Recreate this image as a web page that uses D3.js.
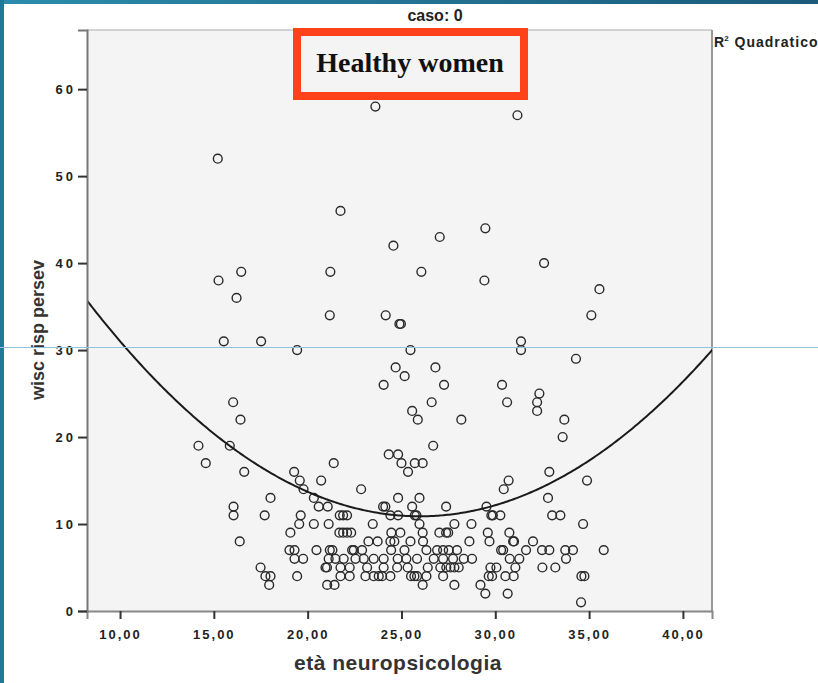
<!DOCTYPE html>
<html lang="it">
<head>
<meta charset="UTF-8">
<title>caso: 0</title>
<script src="https://d3js.org/d3.v7.min.js"></script>
<style>
  html, body { margin: 0; padding: 0; background: #fff; overflow: hidden; }
  svg { display: block; font-family: "Liberation Sans", Arial, sans-serif; }
</style>
</head>
<body>
<svg id="chart" width="818" height="683"></svg>
<script>
// axes
const xTicks = [10, 15, 20, 25, 30, 35, 40];
const yTicks = [0, 10, 20, 30, 40, 50, 60];
const xDomain = [8.24, 41.55];
const yDomain = [0, 66.8];

// quadratic fit: y = b0 + b1*x + b2*x^2
const fitCoef = [64.09, -4.095, 0.0788];

// [età neuropsicologia, wisc risp persev]
const points = [
  [23.61, 58], [31.18, 57], [15.21, 52], [21.75, 46], [29.47, 44], [27.04, 43], [24.57, 42],
  [32.60, 40], [16.46, 39], [21.21, 39], [26.06, 39], [15.25, 38], [29.42, 38], [35.55, 37],
  [16.21, 36], [21.18, 34], [24.16, 34], [35.12, 34], [24.89, 33], [24.97, 33],
  [15.53, 31], [17.52, 31], [31.37, 31], [19.44, 30], [25.48, 30], [31.37, 30], [34.30, 29],
  [24.69, 28], [26.81, 28], [25.17, 27], [24.05, 26], [27.27, 26], [30.36, 26], [32.35, 25],
  [16.03, 24], [26.61, 24], [30.63, 24], [32.23, 24], [25.57, 23], [32.23, 23],
  [16.42, 22], [25.87, 22], [28.19, 22], [33.68, 22], [33.59, 20],
  [14.18, 19], [15.85, 19], [26.69, 19], [24.32, 18], [24.82, 18],
  [14.57, 17], [21.39, 17], [25.00, 17], [25.71, 17], [26.13, 17],
  [16.62, 16], [19.28, 16], [25.35, 16], [32.88, 16],
  [19.58, 15], [20.72, 15], [30.71, 15], [34.89, 15],
  [19.78, 14], [22.85, 14], [30.45, 14],
  [18.02, 13], [20.33, 13], [24.82, 13], [25.96, 13], [32.81, 13],
  [16.05, 12], [20.59, 12], [21.07, 12], [24.02, 12], [24.14, 12], [25.57, 12], [27.38, 12], [29.53, 12],
  [16.05, 11], [17.71, 11], [19.63, 11], [21.71, 11], [21.89, 11], [22.10, 11], [24.41, 11],
  [24.82, 11], [25.71, 11], [25.80, 11], [29.79, 11], [29.87, 11], [30.27, 11], [33.03, 11], [33.47, 11],
  [19.55, 10], [20.33, 10], [21.12, 10], [23.47, 10], [25.96, 10], [27.82, 10], [28.73, 10], [34.68, 10],
  [19.08, 9], [21.69, 9], [21.89, 9], [22.10, 9], [22.32, 9], [24.46, 9], [24.94, 9], [26.13, 9],
  [27.02, 9], [27.38, 9], [27.49, 9], [29.60, 9], [30.75, 9],
  [16.38, 8], [23.24, 8], [23.73, 8], [24.41, 8], [24.62, 8], [25.48, 8], [26.15, 8], [28.62, 8],
  [29.69, 8], [30.95, 8], [31.00, 8], [32.01, 8],
  [19.03, 7], [19.30, 7], [20.47, 7], [21.18, 7], [21.32, 7], [22.37, 7], [22.46, 7], [22.90, 7],
  [24.45, 7], [25.16, 7], [26.33, 7], [26.90, 7], [27.22, 7], [27.52, 7], [27.96, 7], [30.31, 7],
  [30.42, 7], [31.64, 7], [32.49, 7], [32.88, 7], [33.73, 7], [34.14, 7], [35.78, 7],
  [19.30, 6], [19.76, 6], [21.12, 6], [21.48, 6], [21.92, 6], [22.55, 6], [22.99, 6], [23.52, 6],
  [24.05, 6], [24.80, 6], [25.26, 6], [25.83, 6], [26.72, 6], [27.22, 6], [27.75, 6], [28.32, 6],
  [28.76, 6], [30.77, 6], [31.28, 6], [33.77, 6],
  [17.49, 5], [20.95, 5], [21.03, 5], [21.75, 5], [22.24, 5], [23.17, 5], [24.05, 5], [24.77, 5],
  [25.33, 5], [26.40, 5], [27.07, 5], [27.39, 5], [27.61, 5], [27.82, 5], [28.05, 5], [29.74, 5],
  [30.06, 5], [31.07, 5], [32.51, 5], [33.20, 5],
  [17.75, 4], [18.02, 4], [19.44, 4], [21.75, 4], [22.24, 4], [23.08, 4], [23.52, 4], [23.79, 4],
  [23.97, 4], [24.41, 4], [25.51, 4], [25.69, 4], [25.83, 4], [26.33, 4], [27.22, 4], [29.65, 4],
  [29.83, 4], [30.54, 4], [30.98, 4], [34.59, 4], [34.75, 4],
  [17.95, 3], [21.04, 3], [21.43, 3], [26.13, 3], [27.82, 3], [29.21, 3],
  [29.47, 2], [30.66, 2], [34.57, 1]
];

const svg = d3.select("#chart");
const plot = { left: 87, right: 712, top: 30, bottom: 611 };

const x = d3.scaleLinear().domain(xDomain).range([plot.left, plot.right]);
const y = d3.scaleLinear().domain(yDomain).range([plot.bottom, plot.top]);

// slide frame
const grad = svg.append("defs").append("linearGradient").attr("id", "topband");
grad.append("stop").attr("offset", "0%").attr("stop-color", "#2b8cab");
grad.append("stop").attr("offset", "100%").attr("stop-color", "#1c5a7a");
svg.append("rect").attr("x", 0).attr("y", 0).attr("width", 818).attr("height", 4).attr("fill", "url(#topband)");
svg.append("rect").attr("x", 0).attr("y", 0).attr("width", 4).attr("height", 683).attr("fill", "#1f7a9a");

// plot area
svg.append("rect")
  .attr("x", plot.left).attr("y", plot.top)
  .attr("width", plot.right - plot.left).attr("height", plot.bottom - plot.top)
  .attr("fill", "#f4f4f4");
svg.append("line").attr("x1", plot.left).attr("x2", plot.right).attr("y1", plot.top).attr("y2", plot.top)
  .attr("stroke", "#aaa").attr("stroke-width", 1);
svg.append("line").attr("x1", plot.right).attr("x2", plot.right).attr("y1", plot.top).attr("y2", plot.bottom)
  .attr("stroke", "#999").attr("stroke-width", 2);

svg.append("clipPath").attr("id", "clip").append("rect")
  .attr("x", plot.left).attr("y", plot.top)
  .attr("width", plot.right - plot.left).attr("height", plot.bottom - plot.top);

// points
svg.append("g")
  .selectAll("circle")
  .data(points)
  .join("circle")
  .attr("cx", d => x(d[0]))
  .attr("cy", d => y(d[1]))
  .attr("r", 4.4)
  .attr("fill", "none")
  .attr("stroke", "#2a2a2a")
  .attr("stroke-width", 1.4);

// fit curve
const fitX = d3.range(xDomain[0], xDomain[1] + 0.1, 0.1);
const line = d3.line()
  .x(d => x(d))
  .y(d => y(fitCoef[0] + fitCoef[1] * d + fitCoef[2] * d * d));
svg.append("path")
  .datum(fitX)
  .attr("clip-path", "url(#clip)")
  .attr("d", line)
  .attr("fill", "none")
  .attr("stroke", "#1a1a1a")
  .attr("stroke-width", 2);

// axes
const xAxis = svg.append("g")
  .attr("transform", `translate(0,${plot.bottom})`)
  .call(d3.axisBottom(x).tickValues(xTicks).tickSize(8).tickPadding(11)
    .tickFormat(d => d3.format(".2f")(d).replace(".", ",")));
xAxis.select(".domain").attr("stroke", "#888").attr("stroke-width", 2);
xAxis.selectAll(".tick line").attr("stroke", "#333").attr("stroke-width", 2);
xAxis.selectAll(".tick text")
  .attr("font-size", 13).attr("font-weight", "bold").attr("fill", "#222")
  .attr("letter-spacing", 2).attr("font-family", "Liberation Sans, Arial, sans-serif");

const yAxis = svg.append("g")
  .attr("transform", `translate(${plot.left},0)`)
  .call(d3.axisLeft(y).tickValues(yTicks).tickSize(9).tickPadding(2));
yAxis.select(".domain").attr("stroke", "#777").attr("stroke-width", 2);
yAxis.selectAll(".tick line").attr("stroke", "#333").attr("stroke-width", 2);
yAxis.selectAll(".tick text")
  .attr("font-size", 13).attr("font-weight", "bold").attr("fill", "#222")
  .attr("letter-spacing", 3).attr("font-family", "Liberation Sans, Arial, sans-serif");

// titles
svg.append("text")
  .attr("x", 435).attr("y", 21)
  .attr("text-anchor", "middle")
  .attr("font-size", 16).attr("font-weight", "bold").attr("fill", "#222")
  .text("caso: 0");

svg.append("text")
  .attr("x", 398).attr("y", 670)
  .attr("text-anchor", "middle")
  .attr("font-size", 21).attr("font-weight", "bold").attr("fill", "#333")
  .attr("letter-spacing", 0.5)
  .text("età neuropsicologia");

svg.append("text")
  .attr("transform", "translate(44,330) rotate(-90)")
  .attr("text-anchor", "middle")
  .attr("font-size", 18).attr("font-weight", "bold").attr("fill", "#333")
  .text("wisc risp persev");

const legend = svg.append("text")
  .attr("x", 714).attr("y", 47)
  .attr("font-size", 14).attr("font-weight", "bold").attr("fill", "#222");
legend.append("tspan").text("R");
legend.append("tspan").attr("font-size", 8).attr("dy", -6).text("2");
legend.append("tspan").attr("dy", 6).attr("dx", 6).attr("letter-spacing", 1).text("Quadratico");

// annotation box
svg.append("rect")
  .attr("x", 297).attr("y", 32).attr("width", 227).attr("height", 64)
  .attr("fill", "#f4f4f4")
  .attr("stroke", "#ff4218").attr("stroke-width", 8);
svg.append("text")
  .attr("x", 410).attr("y", 72)
  .attr("text-anchor", "middle")
  .attr("font-family", "Liberation Serif, Times New Roman, serif")
  .attr("font-size", 28).attr("font-weight", "bold").attr("fill", "#111")
  .text("Healthy women");

// slide guide line
svg.append("line")
  .attr("x1", 0).attr("x2", 818).attr("y1", 347.5).attr("y2", 347.5)
  .attr("stroke", "#8fc4da").attr("stroke-width", 1);
</script>
</body>
</html>
